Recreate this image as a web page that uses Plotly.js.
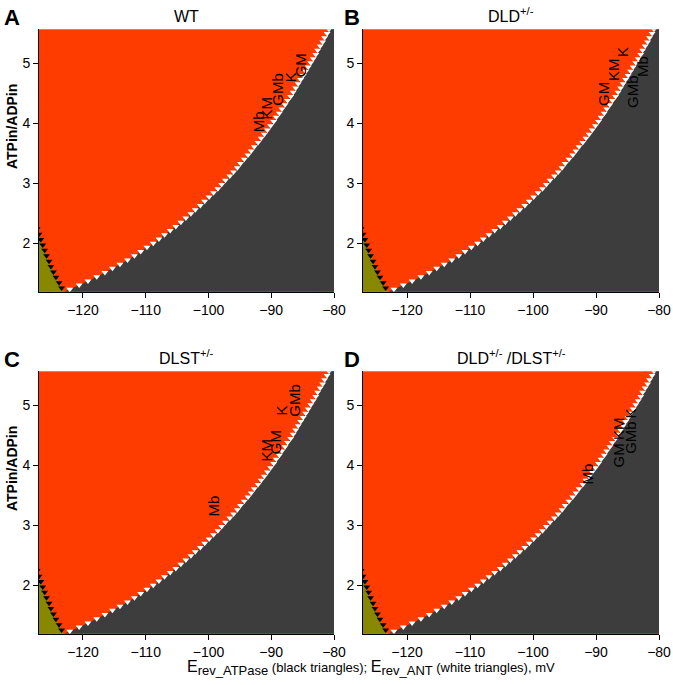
<!DOCTYPE html>
<html>
<head>
<meta charset="utf-8">
<script src="https://cdn.plot.ly/plotly-3.0.1.min.js"></script>
<style>html,body{margin:0;padding:0;background:#fff;}#chart{width:673px;height:685px;}</style>
</head>
<body>
<div id="chart"></div>
<script>
// ANT reversal potential boundary (white triangles)
const antRatio = [1.16,1.23,1.30,1.37,1.44,1.51,1.58,1.65,1.72,1.79,1.86,1.93,2.00,2.07,2.14,2.21,2.28,2.35,2.42,2.49,2.56,2.63,2.70,2.77,2.84,2.91,2.98,3.05,3.12,3.19,3.26,3.33,3.40,3.47,3.54,3.61,3.68,3.75,3.82,3.89,3.96,4.03,4.10,4.17,4.24,4.31,4.38,4.45,4.52,4.59,4.66,4.73,4.80,4.87,4.94,5.01,5.08,5.15,5.22,5.29,5.36,5.43,5.50,5.57,5.64];
const antErev = [-123.7,-122.1,-120.6,-119.2,-117.8,-116.5,-115.3,-114.1,-112.9,-111.8,-110.8,-109.8,-108.8,-107.9,-107.0,-106.1,-105.2,-104.4,-103.6,-102.8,-102.1,-101.3,-100.6,-99.9,-99.2,-98.5,-97.9,-97.3,-96.6,-96.0,-95.4,-94.9,-94.3,-93.7,-93.2,-92.7,-92.1,-91.6,-91.1,-90.6,-90.1,-89.6,-89.2,-88.7,-88.3,-87.8,-87.4,-86.9,-86.5,-86.1,-85.7,-85.3,-84.9,-84.5,-84.1,-83.7,-83.3,-82.9,-82.6,-82.2,-81.8,-81.5,-81.1,-80.8,-80.5];
// ATPase reversal potential boundary (black triangles)
const atpaseRatio = [1.16,1.25,1.34,1.43,1.52,1.61,1.70,1.79,1.88,1.97,2.06,2.15,2.24];
const atpaseErev = [-122.9,-123.4,-123.8,-124.3,-124.7,-125.1,-125.4,-125.8,-126.1,-126.4,-126.7,-127.0,-127.3];

const panelTitles = ['WT','DLD<sup>+/-</sup>','DLST<sup>+/-</sup>','DLD<sup>+/-</sup> /DLST<sup>+/-</sup>'];
const panelLetters = ['A','B','C','D'];
const xTicks = [-120,-110,-100,-90,-80];
const yTicks = [2,3,4,5];
const xRange = [-127,-80];
const yRange = [1.19,5.57];

// substrate labels per panel: text, E (mV), ATP/ADP (label centre)
const labelText = [
  ['Mb','KM','GMb','K','GM'],
  ['GM','KM','K','GMb','Mb'],
  ['Mb','KM','GM','K','GMb'],
  ['Mb','GM','KM','GMb','K']
];
const labelE = [
  [-92.1,-90.8,-89.0,-87.0,-85.4],
  [-88.9,-87.3,-85.9,-84.3,-82.6],
  [-99.2,-90.8,-89.2,-88.4,-86.2],
  [-91.3,-86.4,-86.4,-84.5,-84.5]
];
const labelRatio = [
  [4.02,4.25,4.57,4.77,4.97],
  [4.49,4.89,5.19,4.54,4.95],
  [3.32,4.25,4.39,4.92,5.08],
  [3.86,4.16,4.62,4.47,4.86]
];

const ORANGE = '#ff3c00', DARK = '#3d3d3d', OLIVE = '#878700';
const FONT = 'Arial, "Liberation Sans", sans-serif';
const W = 673, H = 685;
const xDom = [[39/W, 334/W],[363/W, 659/W]];
const yDom = [[1-291.7/H, 1-29.3/H],[1-633.7/H, 1-371.3/H]];
const yTitleCentre = [1-127/H, 1-469/H];

const data = [];
const layout = {
  width: W, height: H,
  margin: {l:0, r:0, t:0, b:0},
  paper_bgcolor: '#ffffff',
  plot_bgcolor: ORANGE,
  showlegend: false,
  font: {family: FONT, size: 14, color: '#000'},
  annotations: []
};

for (let p = 0; p < 4; p++) {
  const sfx = p === 0 ? '' : String(p+1);
  const xa = 'x' + sfx, ya = 'y' + sfx;
  const col = p % 2, row = Math.floor(p/2);
  data.push({x: atpaseErev, y: atpaseRatio, xaxis: xa, yaxis: ya, type: 'scatter', mode: 'none',
             fill: 'tozeroy', fillcolor: OLIVE, hoverinfo: 'skip'});
  data.push({x: antErev, y: antRatio, xaxis: xa, yaxis: ya, type: 'scatter', mode: 'markers',
             fill: 'tozerox', fillcolor: DARK,
             marker: {symbol: 'triangle-down', size: 6, color: '#ffffff', line: {width: 0}}, hoverinfo: 'skip'});
  data.push({x: atpaseErev, y: atpaseRatio, xaxis: xa, yaxis: ya, type: 'scatter', mode: 'markers',
             marker: {symbol: 'triangle-down', size: 6, color: '#000000', line: {width: 0}}, hoverinfo: 'skip'});

  const axCommon = {showgrid: false, zeroline: false, ticks: 'outside', ticklen: 5, tickcolor: '#000',
                    ticklabeloverflow: 'allow',
                    tickfont: {family: FONT, size: 14, color: '#000'}, showline: true, linecolor: '#000', linewidth: 1};
  layout['xaxis' + sfx] = Object.assign({}, axCommon, {domain: xDom[col], range: xRange, tickvals: xTicks, anchor: ya});
  layout['yaxis' + sfx] = Object.assign({}, axCommon, {domain: yDom[row], range: yRange, tickvals: yTicks, anchor: xa});

  for (let i = 0; i < labelText[p].length; i++) {
    layout.annotations.push({xref: xa, yref: ya, x: labelE[p][i], y: labelRatio[p][i], text: labelText[p][i],
      textangle: -90, showarrow: false, xanchor: 'center', yanchor: 'middle',
      font: {family: FONT, size: 15, color: '#000'}});
  }
  const xc = (xDom[col][0] + xDom[col][1]) / 2;
  layout.annotations.push({xref: 'paper', yref: 'paper', x: xc, y: yDom[row][1] + 2/H, text: panelTitles[p],
    showarrow: false, xanchor: 'center', yanchor: 'bottom', font: {family: FONT, size: 16, color: '#000'}});
  layout.annotations.push({xref: 'paper', yref: 'paper', x: (col === 0 ? 2 : 342)/W, y: 1 - (row === 0 ? 3 : 345)/H,
    text: '<b>' + panelLetters[p] + '</b>', showarrow: false, xanchor: 'left', yanchor: 'top',
    font: {family: FONT, size: 22, color: '#000'}});
}
for (let row = 0; row < 2; row++) {
  layout.annotations.push({xref: 'paper', yref: 'paper', x: 12/W, y: yTitleCentre[row],
    text: '<b>ATPin/ADPin</b>', textangle: -90, showarrow: false, xanchor: 'center', yanchor: 'middle',
    font: {family: FONT, size: 14, color: '#000'}});
}
layout.annotations.push({xref: 'paper', yref: 'paper', x: 371/W, y: 1 - 668/H,
  text: '<span style="font-size:16px">E</span><sub><span style="font-size:13px">rev_ATPase</span></sub> (black triangles); <span style="font-size:16px">E</span><sub><span style="font-size:13px">rev_ANT</span></sub> (white triangles), mV',
  showarrow: false, xanchor: 'center', yanchor: 'middle', font: {family: FONT, size: 13, color: '#000'}});

Plotly.newPlot('chart', data, layout, {displayModeBar: false, staticPlot: true});
</script>
</body>
</html>
